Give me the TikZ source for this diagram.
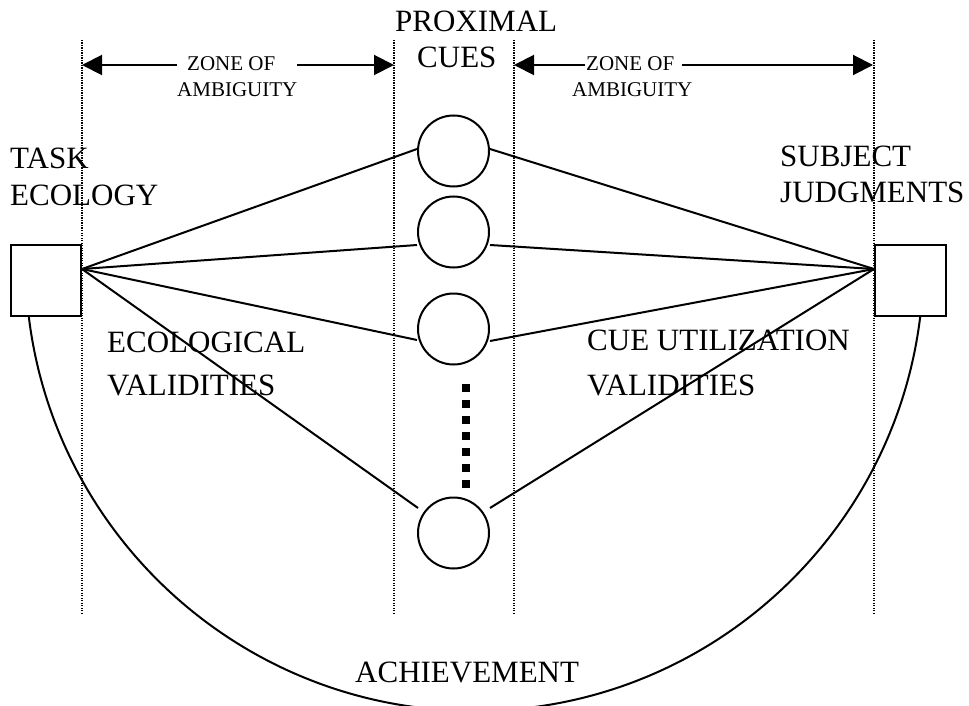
\documentclass[tikz,border=0pt]{standalone}
\usepackage{fontspec}
\setmainfont{Liberation Serif}
\usetikzlibrary{arrows.meta,calc}
\begin{document}
\begin{tikzpicture}[x=1pt,y=-1pt,
  big/.style={anchor=base west, inner sep=0pt, font=\fontsize{31}{37}\selectfont},
  small/.style={anchor=base west, inner sep=0pt, font=\fontsize{21}{25}\selectfont},
  stroke/.style={line width=2pt},
  guide/.style={line width=1.2pt, dash pattern=on 1.2pt off 1.3pt},
  cue/.style={circle, draw, stroke, minimum size=71pt, inner sep=0pt},
  unitbox/.style={rectangle, draw, stroke, minimum width=70.5pt, minimum height=71.5pt, inner sep=0pt},
  zonearrow/.style={stroke, -{Triangle[length=20pt,width=20pt]}},
]
\fill[white] (0,0) rectangle (969,706);
\useasboundingbox (0,0) rectangle (969,706);

% zone boundaries
\coordinate (g1t) at (82,40);  \coordinate (g1b) at (82,613);
\coordinate (g2t) at (394,40); \coordinate (g2b) at (394,613);
\coordinate (g3t) at (514,40); \coordinate (g3b) at (514,613);
\coordinate (g4t) at (874,40); \coordinate (g4b) at (874,613);
\foreach \g in {g1,g2,g3,g4} \draw[guide] (\g t) -- (\g b);

% headings
\node[big] (prox) at (395,32) {PROXIMAL};
\node[big] (cues) at (417,68) {CUES};
\node[big] (task) at (10,168) {TASK};
\node[big] (ecol) at (10,205) {ECOLOGY};
\node[big] (subj) at (780,167) {SUBJECT};
\node[big] (judg) at (780,202) {JUDGMENTS};
\node[big] (ev1) at (107,352) {ECOLOGICAL};
\node[big] (ev2) at (107,395) {VALIDITIES};
\node[big] (cu1) at (587,350) {CUE UTILIZATION};
\node[big] (cu2) at (587,395) {VALIDITIES};
\node[big] (ach) at (355,682) {ACHIEVEMENT};

% zones of ambiguity
\node[small] (za1) at (187,71) {ZONE OF};
\node[small] (zb1) at (177,97) {AMBIGUITY};
\node[small] (za2) at (586,71) {ZONE OF};
\node[small] (zb2) at (572,97) {AMBIGUITY};
\coordinate (a1l) at (177,65); \coordinate (a1r) at (297,65);
\coordinate (a2l) at (585,65); \coordinate (a2r) at (682,65);
\coordinate (t1l) at (82,65);  \coordinate (t1r) at (394,65);
\coordinate (t2l) at (514,65); \coordinate (t2r) at (873,65);
\draw[zonearrow] (a1l) -- (t1l);
\draw[zonearrow] (a1r) -- (t1r);
\draw[zonearrow] (a2l) -- (t2l);
\draw[zonearrow] (a2r) -- (t2r);

% distal variable and judgment
\node[unitbox] (tbox) at (46,280.5) {};
\node[unitbox] (sbox) at (910.5,280.5) {};
\coordinate (tl) at (82,269);
\coordinate (sj) at (874,269);

% proximal cues
\node[cue] (c1) at (453.5,151) {};
\node[cue] (c2) at (453.5,232) {};
\node[cue] (c3) at (453.5,329) {};
\node[cue] (c4) at (453.5,533) {};
\draw[line width=8pt, dash pattern=on 8pt off 8pt] (466,384) -- (466,488);

% lens lines
\draw[stroke] (tl) -- ($(c1.west)+(0,-2)$);
\draw[stroke] (tl) -- ($(c2.west)+(0,13)$);
\draw[stroke] (tl) -- ($(c3.west)+(0,11)$);
\draw[stroke] (tl) -- ($(c4.west)+(1,-25)$);
\draw[stroke] ($(c1.east)+(0,-2)$) -- (sj);
\draw[stroke] ($(c2.east)+(0,13)$) -- (sj);
\draw[stroke] ($(c3.east)+(0,12)$) -- (sj);
\draw[stroke] ($(c4.east)+(0,-25)$) -- (sj);

% achievement arc
\coordinate (arcc) at (474.5,262);
\begin{scope}
  \clip (0,317) rectangle (969,720);
  \draw[stroke] (arcc) circle[radius=449];
\end{scope}
\end{tikzpicture}
\end{document}
